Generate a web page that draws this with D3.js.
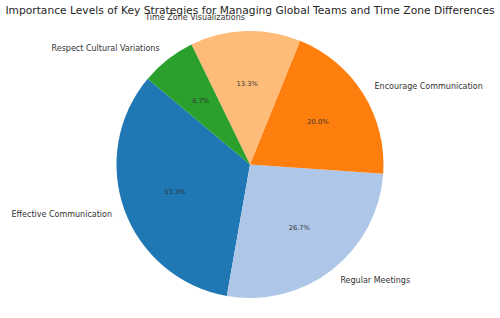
<!DOCTYPE html>
<html>
<head>
<meta charset="utf-8">
<script src="https://cdn.jsdelivr.net/npm/d3@7"></script>
<style>
  html, body { margin: 0; padding: 0; background: #fff; }
  svg { display: block; }
  text { font-family: "DejaVu Sans", sans-serif; }
</style>
</head>
<body>
<svg id="chart" width="500" height="318"></svg>
<script>
const titleText = "Importance Levels of Key Strategies for Managing Global Teams and Time Zone Differences";
const categories = ["Effective Communication", "Regular Meetings", "Encourage Communication", "Time Zone Visualizations", "Respect Cultural Variations"];
const values = [5, 4, 3, 2, 1];
const colors = ["#1f77b4", "#aec7e8", "#ff7f0e", "#ffbb78", "#2ca02c"];

const W = 500, H = 318;
const cx = 250, cy = 164.5, r = 133.5;
const startDeg = 140; // matplotlib-style start angle, counter-clockwise

const svg = d3.select("#chart");

const title = svg.append("text")
  .attr("x", W / 2)
  .attr("y", 14)
  .attr("text-anchor", "middle")
  .attr("font-size", 11)
  .attr("fill", "#262626")
  .text(titleText);
// fit title to the reference's width (~490px)
const tl = title.node().getComputedTextLength();
if (tl > 0) title.attr("font-size", 11 * 490 / tl);

const data = categories.map((c, i) => ({ label: c, value: values[i], color: colors[i] }));
const total = d3.sum(values);

const start = (90 - startDeg) * Math.PI / 180;
const pie = d3.pie().sort(null).value(d => d.value)
  .startAngle(start).endAngle(start - 2 * Math.PI);

const arcs = pie(data);
const arc = d3.arc().innerRadius(0).outerRadius(r);

const g = svg.append("g").attr("transform", `translate(${cx},${cy})`);

g.selectAll("path.slice").data(arcs).enter().append("path")
  .attr("class", "slice")
  .attr("d", arc)
  .attr("fill", d => d.data.color);

const fmt = d3.format(".1f");

g.selectAll("text.pct").data(arcs).enter().append("text")
  .attr("class", "pct")
  .attr("x", d => Math.sin((d.startAngle + d.endAngle) / 2) * r * 0.6)
  .attr("y", d => -Math.cos((d.startAngle + d.endAngle) / 2) * r * 0.6)
  .attr("text-anchor", "middle")
  .attr("dominant-baseline", "central")
  .attr("font-size", 6.7)
  .attr("fill", "#333")
  .text(d => fmt(d.data.value / total * 100) + "%");

g.selectAll("text.lbl").data(arcs).enter().append("text")
  .attr("class", "lbl")
  .attr("x", d => Math.sin((d.startAngle + d.endAngle) / 2) * r * 1.1)
  .attr("y", d => -Math.cos((d.startAngle + d.endAngle) / 2) * r * 1.1)
  .attr("text-anchor", d => Math.sin((d.startAngle + d.endAngle) / 2) > 0 ? "start" : "end")
  .attr("dominant-baseline", "central")
  .attr("font-size", 8)
  .attr("fill", "#333")
  .text(d => d.data.label);
</script>
</body>
</html>
